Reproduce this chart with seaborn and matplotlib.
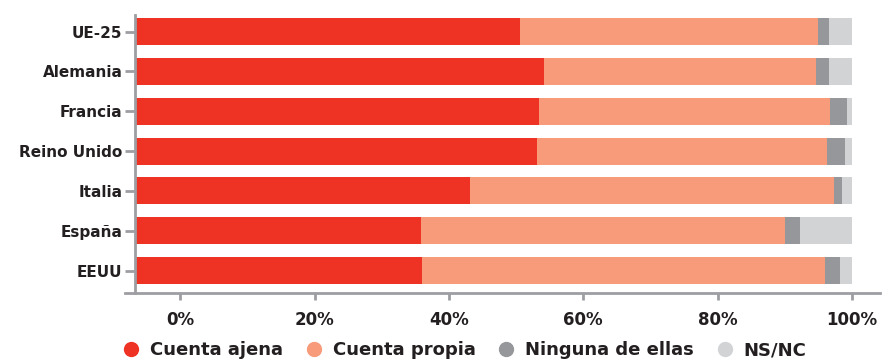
import numpy as np
import pandas as pd
import matplotlib
matplotlib.use("Agg")
import matplotlib.pyplot as plt
from matplotlib.lines import Line2D
import seaborn as sns

# Share of workers by type of employment (%)
paises = ["UE-25", "Alemania", "Francia", "Reino Unido", "Italia", "España", "EEUU"]
cuenta_ajena = [53.7, 57.0, 56.3, 56.1, 46.7, 39.9, 40.0]
cuenta_propia = [41.6, 38.0, 40.6, 40.4, 50.8, 50.8, 56.2]
ninguna = [1.5, 1.8, 2.4, 2.5, 1.1, 2.0, 2.1]
ns_nc = [3.2, 3.2, 0.7, 1.0, 1.4, 7.3, 1.7]

series = ["Cuenta ajena", "Cuenta propia", "Ninguna de ellas", "NS/NC"]
colores = ["#EE3224", "#F89B7B", "#96979B", "#D2D3D5"]
tick_labels = ["0%", "20%", "40%", "60%", "80%", "100%"]

sns.set_theme(style="white")
txt = "#231F20"
eje = "#9D9EA2"
plt.rcParams["font.family"] = ["DejaVu Sans"]
plt.rcParams["font.weight"] = "bold"
plt.rcParams["text.color"] = txt
plt.rcParams["xtick.color"] = txt
plt.rcParams["ytick.color"] = txt

df = pd.DataFrame({
    "pais": paises,
    series[0]: cuenta_ajena,
    series[1]: cuenta_propia,
    series[2]: ninguna,
    series[3]: ns_nc,
})
acum = df[series].cumsum(axis=1)
acum["pais"] = df["pais"]

fig = plt.figure(figsize=(8.88, 3.59), dpi=100)
ax = fig.add_axes([0.1408, 0.1838, 0.850, 0.774])

# stacked bars: draw cumulative totals from the outermost segment inward
for s, c in reversed(list(zip(series, colores))):
    sns.barplot(data=acum, y="pais", x=s, orient="y", color=c,
                width=0.68, saturation=1, ax=ax, linewidth=0)

ax.set_xlim(-1.4, 103.9)
ax.set_ylim(6.565, -0.414)
ax.set_xlabel("")
ax.set_ylabel("")

# tick scale of the percentage axis
t0 = 6.3
ax.set_xticks(np.linspace(t0, 100, len(tick_labels)))
ax.set_xticklabels(tick_labels)
ax.set_yticks(range(len(paises)))
ax.set_yticklabels(paises)

for side in ["top", "right"]:
    ax.spines[side].set_visible(False)
ax.spines["left"].set_position(("data", 0))
for side in ["left", "bottom"]:
    ax.spines[side].set_color(eje)
    ax.spines[side].set_linewidth(2)

ax.tick_params(axis="x", direction="out", length=5, width=2, color=eje, pad=8,
               bottom=True, labelsize=12, labelcolor=txt)
ax.tick_params(axis="y", direction="out", length=7, width=2, color=eje, pad=2,
               left=True, labelsize=11, labelcolor=txt)
for lbl in ax.get_xticklabels() + ax.get_yticklabels():
    lbl.set_fontweight("bold")

handles = [Line2D([0], [0], marker="o", linestyle="", markersize=10,
                  markerfacecolor=c, markeredgecolor=c) for c in colores]
fig.legend(handles, series, loc="center", bbox_to_anchor=(0.523, 0.025),
           ncol=4, frameon=False, handletextpad=0.55, columnspacing=1.2,
           prop={"size": 13, "weight": "bold"}, labelcolor=txt,
           handlelength=1.0)

fig.savefig("out.png", dpi=100)
